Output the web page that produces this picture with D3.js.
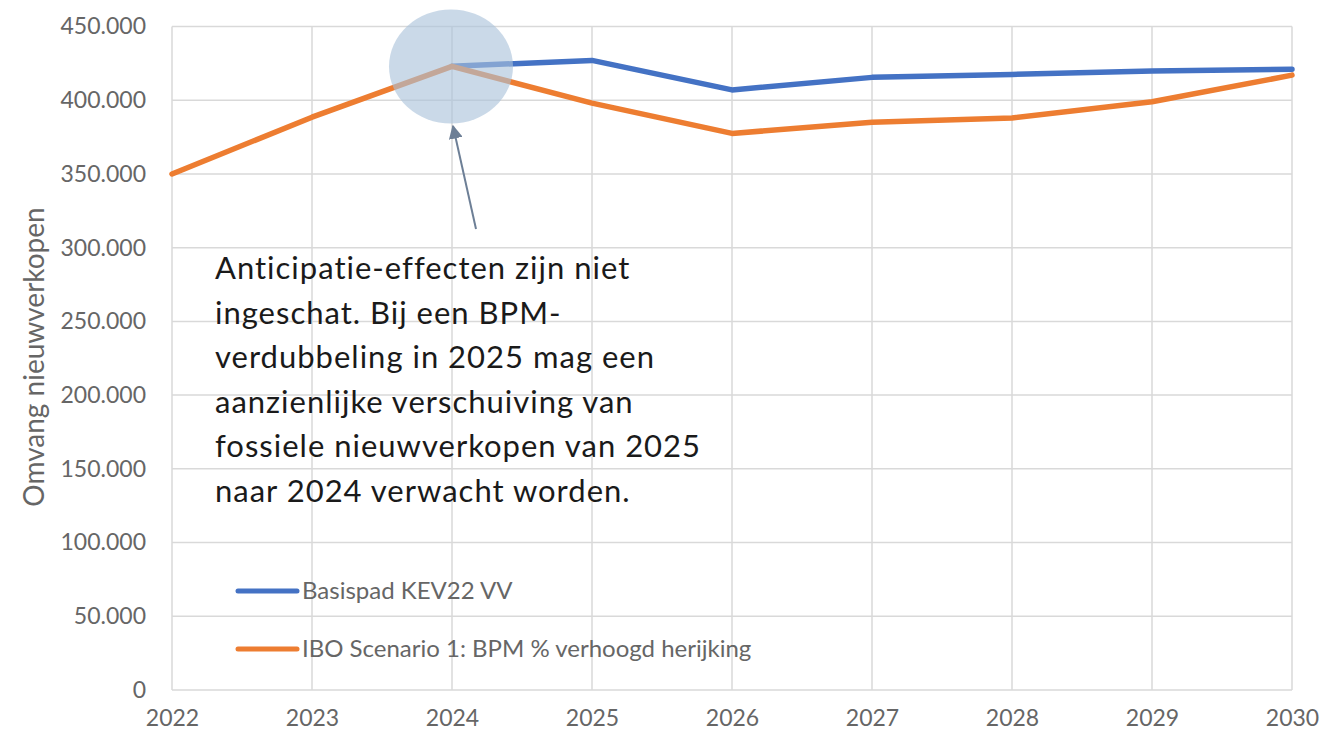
<!DOCTYPE html>
<html>
<head>
<meta charset="utf-8">
<script src="https://cdn.jsdelivr.net/npm/d3@7"></script>
<style>
  html, body { margin: 0; padding: 0; background: #fff; }
  svg { display: block; }
</style>
</head>
<body>
<svg id="chart" width="1322" height="736"></svg>
<script>
// Jaren op de x-as
const years = [2022, 2023, 2024, 2025, 2026, 2027, 2028, 2029, 2030];
// Basispad KEV22 VV (begint in 2024)
const basispad = [null, null, 423000, 427000, 407000, 415500, 417500, 419800, 421000];
// IBO Scenario 1: BPM % verhoogd herijking
const scenario = [350000, 388500, 423000, 398000, 377500, 385000, 388000, 399000, 417000];
// Tick-waarden y-as
const yTicks = [0, 50000, 100000, 150000, 200000, 250000, 300000, 350000, 400000, 450000];
const seriesNames = ["Basispad KEV22 VV", "IBO Scenario 1: BPM % verhoogd herijking"];
const seriesColors = ["#4472C4", "#ED7D31"];
const yTitle = "Omvang nieuwverkopen";
const noteLines = [
  "Anticipatie-effecten zijn niet",
  "ingeschat. Bij een BPM-",
  "verdubbeling in 2025 mag een",
  "aanzienlijke verschuiving van",
  "fossiele nieuwverkopen van 2025",
  "naar 2024 verwacht worden."
];

const svg = d3.select("#chart");
const plotLeft = 172, plotRight = 1292, plotTop = 26.5, plotBottom = 690;
const x = d3.scaleLinear().domain([2022, 2030]).range([plotLeft, plotRight]);
const y = d3.scaleLinear().domain([0, 450000]).range([plotBottom, plotTop]);
const grid = "#d9d9d9";
const labelColor = "#666666";
const font = "Lato, 'Open Sans', sans-serif";

// Rasterlijnen
const g = svg.append("g");
g.selectAll("line.h").data(yTicks).join("line")
  .attr("class", "h")
  .attr("x1", plotLeft).attr("x2", plotRight)
  .attr("y1", d => y(d)).attr("y2", d => y(d))
  .attr("stroke", grid).attr("stroke-width", 1.5);
g.selectAll("line.v").data(years).join("line")
  .attr("class", "v")
  .attr("x1", d => x(d)).attr("x2", d => x(d))
  .attr("y1", plotTop).attr("y2", plotBottom)
  .attr("stroke", grid).attr("stroke-width", 1.5);

// As-labels
const yAxis = d3.axisLeft(y).tickValues(yTicks).tickSize(0).tickPadding(26)
  .tickFormat(d => d === 0 ? "0" : d3.format(",")(d).replace(/,/g, "."));
const ya = svg.append("g").attr("transform", `translate(${plotLeft},0)`).call(yAxis);
ya.select(".domain").remove();
ya.selectAll("text").attr("fill", labelColor).style("font-family", font).style("font-size", "23px");

const xAxis = d3.axisBottom(x).tickValues(years).tickSize(0).tickPadding(20).tickFormat(d3.format("d"));
const xa = svg.append("g").attr("transform", `translate(0,${plotBottom})`).call(xAxis);
xa.select(".domain").remove();
xa.selectAll("text").attr("fill", labelColor).style("font-family", font).style("font-size", "23px");

svg.append("text")
  .attr("transform", `translate(44,${357}) rotate(-90)`)
  .attr("text-anchor", "middle")
  .attr("fill", labelColor).style("font-family", font).style("font-size", "28px")
  .text(yTitle);

// Lijnen
const line = d3.line()
  .defined(d => d[1] !== null)
  .x(d => x(d[0])).y(d => y(d[1]));
[basispad, scenario].forEach((vals, i) => {
  svg.append("path")
    .datum(years.map((yr, j) => [yr, vals[j]]))
    .attr("d", line)
    .attr("fill", "none")
    .attr("stroke", seriesColors[i])
    .attr("stroke-width", 5.5)
    .attr("stroke-linejoin", "round")
    .attr("stroke-linecap", "round");
});

// Markering rond 2024
svg.append("ellipse")
  .attr("cx", x(2024) - 1).attr("cy", 66.5)
  .attr("rx", 62).attr("ry", 57)
  .attr("fill", "#aac2da").attr("fill-opacity", 0.62);

// Pijl naar de markering
const defs = svg.append("defs");
defs.append("marker")
  .attr("id", "arrow").attr("viewBox", "0 0 10 10")
  .attr("refX", 9).attr("refY", 5)
  .attr("markerWidth", 7).attr("markerHeight", 7)
  .attr("markerUnits", "strokeWidth")
  .attr("orient", "auto")
  .append("path").attr("d", "M0,0 L10,5 L0,10 Z").attr("fill", "#6d7f96");
svg.append("line")
  .attr("x1", 476).attr("y1", 229)
  .attr("x2", x(2024) + 1).attr("y2", 126)
  .attr("stroke", "#6d7f96").attr("stroke-width", 2)
  .attr("marker-end", "url(#arrow)");

// Toelichting
const note = svg.append("text")
  .attr("fill", "#1a1a1a").style("font-family", font).style("font-size", "31px")
  .style("letter-spacing", "1px");
noteLines.forEach((t, i) => {
  note.append("tspan").attr("x", 215).attr("y", 279 + i * 44.5).text(t);
});

// Legenda
seriesNames.forEach((name, i) => {
  const ly = 591 + i * 58;
  svg.append("line")
    .attr("x1", 238).attr("x2", 297).attr("y1", ly).attr("y2", ly)
    .attr("stroke", seriesColors[i]).attr("stroke-width", 5).attr("stroke-linecap", "round");
  svg.append("text")
    .attr("x", 302).attr("y", ly + 8)
    .attr("fill", labelColor).style("font-family", font).style("font-size", "24px")
    .text(name);
});
</script>
</body>
</html>
